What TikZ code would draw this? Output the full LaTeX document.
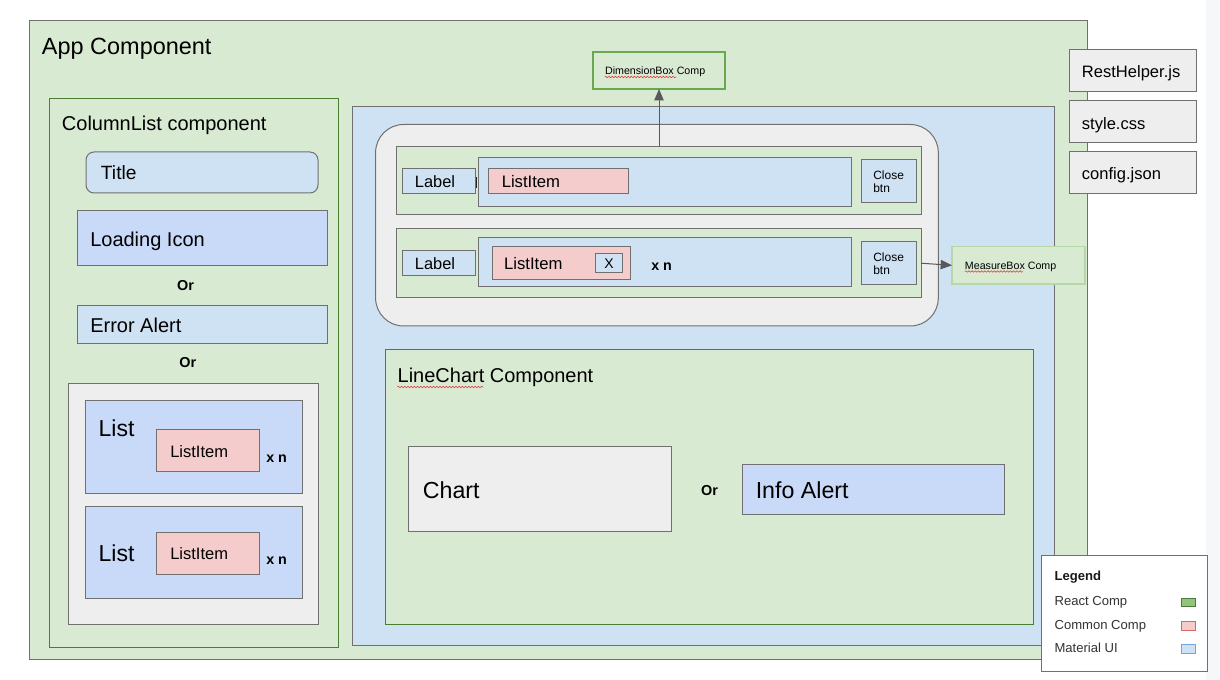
\documentclass[tikz,border=0pt]{standalone}
\usepackage{fontspec}
\setmainfont{Liberation Sans}
\usetikzlibrary{fit,arrows.meta,decorations.pathmorphing}
\definecolor{gfill}{HTML}{D9EAD3}
\definecolor{bfill}{HTML}{CFE2F3}
\definecolor{mfill}{HTML}{C9DAF8}
\definecolor{pfill}{HTML}{F4CCCC}
\definecolor{efill}{HTML}{EEEEEE}
\definecolor{bordgray}{HTML}{707070}
\definecolor{dgreen}{HTML}{4A7F32}
\definecolor{mgreen}{HTML}{6AA84F}
\definecolor{lgreen}{HTML}{B6D7A8}
\definecolor{arrgray}{HTML}{595959}
\definecolor{strip}{HTML}{F6F7F8}
\definecolor{legtext}{HTML}{333333}
\definecolor{swgfill}{HTML}{93C47D}
\definecolor{swgdraw}{HTML}{4E7A3A}
\definecolor{swpdraw}{HTML}{E06666}
\definecolor{swbdraw}{HTML}{6FA8DC}
\definecolor{squig}{HTML}{E04040}
\newcommand{\fsz}[1]{\fontsize{#1}{#1}\selectfont}
\newcommand{\bx}[6]{\node[#1, fit={(#3,#4) (#5,#6)}] (#2) {};}
\tikzset{
  base/.style={inner sep=0pt, outer sep=0pt, line width=0.75pt},
  greenbox/.style={base, draw=bordgray, fill=gfill},
  greencomp/.style={base, draw=dgreen, fill=gfill},
  bluebox/.style={base, draw=bordgray, fill=bfill},
  midbox/.style={base, draw=bordgray, fill=mfill},
  pinkbox/.style={base, draw=bordgray, fill=pfill},
  graybox/.style={base, draw=bordgray, fill=efill},
  txt/.style={inner sep=0pt, anchor=base west, font=\fsz{#1}, yshift=-0.358*#1},
  btxt/.style={inner sep=0pt, anchor=base west, font=\fsz{#1}\bfseries, yshift=-0.358*#1},
  ctxt/.style={inner sep=0pt, anchor=base, font=\fsz{#1}, yshift=-0.358*#1},
  cbtxt/.style={inner sep=0pt, anchor=base, font=\fsz{#1}\bfseries, yshift=-0.358*#1},
  closetxt/.style={inner sep=0pt, anchor=base west, align=left, font=\fontsize{9pt}{10pt}\selectfont},
  arr/.style={draw=arrgray, line width=0.75pt, -{Triangle[length=8.5pt,width=7pt]}},
  squiggle/.style={draw=squig, line width=0.45pt, decorate, decoration={snake, amplitude=0.55pt, segment length=2.4pt}},
}
\begin{document}
\begin{tikzpicture}[x=0.75pt, y=-0.75pt]
\useasboundingbox (0,0) rectangle (1220,680);
\fill[white] (0,0) rectangle (1220,680);
\fill[strip] (1206,0) rectangle (1220,680);

% App component
\bx{greenbox}{app}{29}{21}{1087}{659}
\node[txt=17.6pt] (apptxt) at (41.7,46.4) {App Component};

% ColumnList component
\bx{greencomp}{col}{49}{99}{338}{647}
\node[txt=15pt] (coltxt) at (61.7,123.4) {ColumnList component};
\node[base, draw=bordgray, fill=bfill, rounded corners=6pt, fit={(86,152) (318,193)}] (title) {};
\node[txt=14.4pt] (titletxt) at (100.7,172.7) {Title};
\bx{midbox}{loading}{77}{211}{327}{266}
\node[txt=15pt] (loadtxt) at (90,239.3) {Loading Icon};
\node[cbtxt=10.8pt] (or1) at (185.5,285) {Or};
\bx{bluebox}{error}{77}{305.5}{327}{344}
\node[txt=15pt] (errtxt) at (90,325) {Error Alert};
\node[cbtxt=10.8pt] (or2) at (187.8,362.7) {Or};
\bx{graybox}{listwrap}{68.3}{383.3}{318.7}{624}
\bx{midbox}{listA}{85}{401}{302}{493.3}
\node[txt=17.3pt] (listAtxt) at (98.3,428.3) {List};
\bx{pinkbox}{itemA}{156.7}{429.3}{259}{471.7}
\node[txt=12.4pt] (itemAtxt) at (170,451.7) {ListItem};
\node[btxt=10.7pt] (xnA) at (266,457) {x n};
\bx{midbox}{listB}{85}{506.7}{302}{598.7}
\node[txt=17.3pt] (listBtxt) at (98.3,553.3) {List};
\bx{pinkbox}{itemB}{156.7}{532}{259}{574.3}
\node[txt=12.4pt] (itemBtxt) at (170,553.3) {ListItem};
\node[btxt=10.7pt] (xnB) at (266,559.3) {x n};

% Main blue panel
\bx{bluebox}{panel}{352.5}{106.3}{1054}{645.7}

% DimensionBox
\node[base, draw=mgreen, fill=gfill, line width=1.1pt, fit={(593,52) (725,89)}] (dim) {};
\node[txt=8pt] (dimtxt) at (604.8,70.7) {DimensionBox Comp};
\draw[squiggle] (604.8,77) -- (676,77);

% Rounded container
\node[base, draw=bordgray, fill=efill, rounded corners=21pt, fit={(375.6,124.5) (938.3,326)}] (chips) {};
% Row 1
\bx{greenbox}{row1}{396.8}{146.7}{921}{215}
\bx{bluebox}{lab1}{402.5}{168.7}{475.6}{193.7}
\node[txt=12.3pt] (lab1txt) at (414.7,181.7) {Label};
\draw[line width=1.3pt, black!85] (476.6,177) -- (476.6,188.5);
\bx{bluebox}{cont1}{478.4}{157.3}{851}{206.7}
\bx{pinkbox}{chip1}{488.3}{168.3}{628}{193.7}
\node[txt=12.5pt] (chip1txt) at (501.5,181.7) {ListItem};
\bx{bluebox}{close1}{861}{160}{916.6}{202.3}
\node[closetxt] (close1txt) at (873,192.6) {Close\\btn};
% Row 2
\bx{greenbox}{row2}{396.8}{228.7}{921}{297.7}
\bx{bluebox}{lab2}{402.5}{250.3}{475.6}{275.7}
\node[txt=12.3pt] (lab2txt) at (414.7,263.3) {Label};
\bx{bluebox}{cont2}{478.4}{237.7}{851}{287}
\bx{pinkbox}{chip2}{492}{246.7}{630.8}{279.3}
\node[txt=12.5pt] (chip2txt) at (503.9,263.3) {ListItem};
\bx{bluebox}{xbtn}{595.4}{253.7}{622.7}{272.3}
\node[ctxt=10.5pt] (xbtntxt) at (xbtn.center) {X};
\node[btxt=10.7pt] (xnC) at (651,265.3) {x n};
\bx{bluebox}{close2}{861}{242}{916.6}{284.3}
\node[closetxt] (close2txt) at (873,274.6) {Close\\btn};

% MeasureBox
\node[base, draw=lgreen, fill=gfill, line width=1pt, fit={(952,246.7) (1085,284)}] (measure) {};
\node[txt=8pt] (measuretxt) at (964.7,265.7) {MeasureBox Comp};
\draw[squiggle] (964.7,271.5) -- (1022.7,271.5);

% Arrows
\draw[arr] (row1.north -| dim.south) -- (dim.south);
\draw[arr] (row2.east) -- (measure.west);

% LineChart component
\bx{greencomp}{linechart}{385}{350}{1033.8}{624.3}
\node[txt=15pt] (lctxt) at (397.4,375) {LineChart Component};
\draw[squiggle] (397.4,387) -- (483.3,387);
\bx{graybox}{chart}{408.9}{446.7}{671}{531}
\node[txt=17.4pt] (charttxt) at (422.6,490) {Chart};
\node[cbtxt=10.8pt] (or3) at (709.5,490) {Or};
\bx{midbox}{info}{742}{464}{1004.4}{514}
\node[txt=17.4pt] (infotxt) at (755.5,490) {Info Alert};

% Files
\bx{graybox}{rest}{1069}{49.3}{1196}{91.3}
\node[txt=12.4pt] (resttxt) at (1081.7,71.7) {RestHelper.js};
\bx{graybox}{style}{1069}{100.7}{1196}{142.7}
\node[txt=12.4pt] (styletxt) at (1081.7,123.3) {style.css};
\bx{graybox}{config}{1069}{151.3}{1196}{193.3}
\node[txt=12.4pt] (configtxt) at (1081.7,174) {config.json};

% Legend
\node[base, draw=bordgray, fill=white, fit={(1041.7,555.7) (1207.7,671.7)}] (legend) {};
\node[btxt=9.8pt, text=black!90] (legtitle) at (1054.3,576) {Legend};
\node[txt=9.8pt, text=legtext] (legreact) at (1054.3,601) {React Comp};
\node[txt=9.8pt, text=legtext] (legcommon) at (1054.3,624.7) {Common Comp};
\node[txt=9.8pt, text=legtext] (legmat) at (1054.3,648.3) {Material UI};
\node[base, draw=swgdraw, fill=swgfill, fit={(1181.7,598.7) (1195,606.7)}] (swreact) {};
\node[base, draw=swpdraw, fill=pfill, fit={(1181.7,621.5) (1195,630)}] (swcommon) {};
\node[base, draw=swbdraw, fill=bfill, fit={(1181.7,644.5) (1195,653)}] (swmat) {};
\end{tikzpicture}
\end{document}
